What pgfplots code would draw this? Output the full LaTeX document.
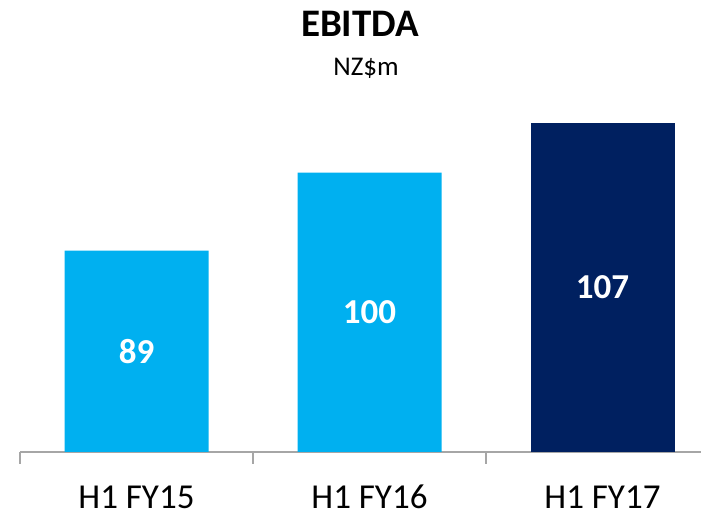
\documentclass[border=0pt]{standalone}
\usepackage{pgfplots}
\pgfplotsset{compat=1.18}
\usepackage{fontspec}
\setmainfont{Carlito}
\definecolor{ltblue}{HTML}{00B0F0}
\definecolor{navy}{HTML}{002060}
\definecolor{axgray}{HTML}{A6A6A6}

\begin{document}
\begin{tikzpicture}
\begin{axis}[
  at={(20pt,61pt)}, anchor=south west,
  scale only axis, width=699pt, height=350.2pt,
  xmin=-0.5, xmax=2.5, ymin=60.6, ymax=110,
  axis x line=bottom, axis y line=none,
  x axis line style={-, draw=axgray, line width=1.2pt},
  xtick={0,1,2}, xticklabels={H1 FY15,H1 FY16,H1 FY17},
  major tick length=0pt,
  minor xtick={-0.5,0.5,1.5,2.5}, minor tick length=12pt,
  tick align=outside, tick style={draw=axgray, line width=1.2pt},
  xticklabel style={font=\fontsize{35}{35}\selectfont, anchor=base, inner sep=0pt, yshift=-56.5pt},
  ytick=\empty,
]
\addplot[ybar, bar width=144pt, bar shift=0pt, fill=ltblue, draw=none]
  coordinates {(0,89) (1,100)};
\addplot[ybar, bar width=144pt, bar shift=0pt, fill=navy, draw=none]
  coordinates {(2,107)};
% value labels, centred in each bar
\addplot[only marks, mark=*, mark size=0pt, mark options={draw=none, fill=none},
  nodes near coords, point meta=explicit symbolic,
  nodes near coords style={font=\bfseries\fontsize{35}{35}\selectfont, text=white, anchor=center}]
  table[meta=lab] {
x y lab
0 74.8 89
1 80.3 100
2 83.8 107
};
\end{axis}
\node[font=\bfseries\fontsize{39}{39}\selectfont, anchor=base] at (360pt,476pt) {EBITDA};
\node[font=\fontsize{27}{27}\selectfont, anchor=base] at (366pt,437pt) {NZ\$m};
\pgfresetboundingbox
\path (0,0) rectangle (701pt,513pt);
\end{tikzpicture}
\end{document}
